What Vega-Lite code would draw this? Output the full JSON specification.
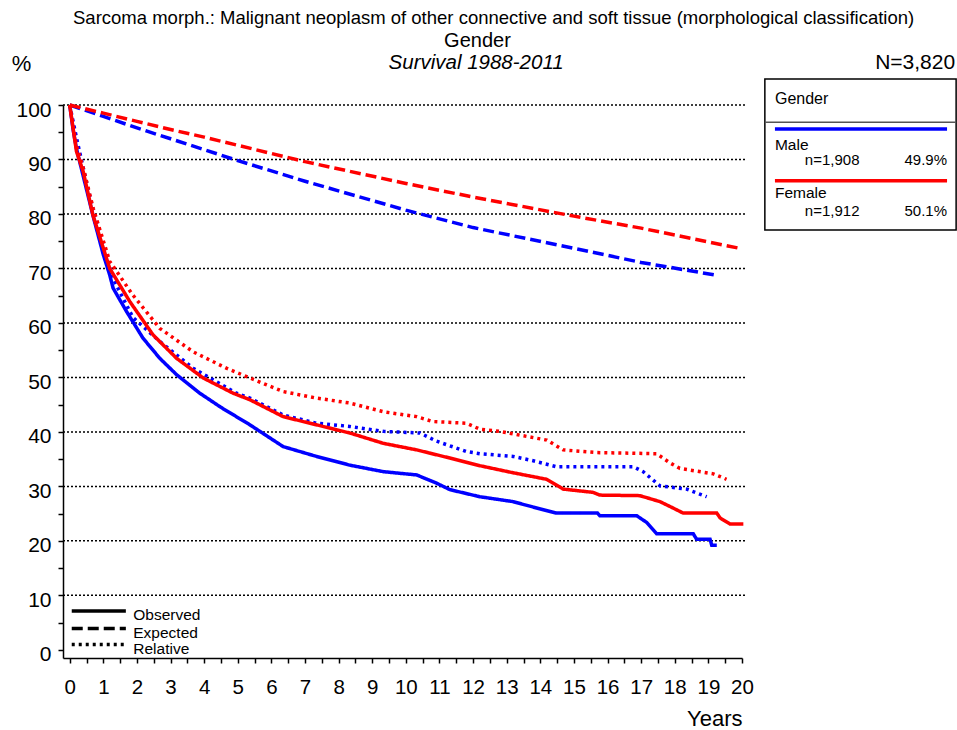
{
  "$schema": "https://vega.github.io/schema/vega-lite/v6.json",
  "width": 679,
  "height": 553,
  "autosize": "none",
  "padding": {"left": 63, "top": 105, "right": 215, "bottom": 72},
  "background": "white",
  "config": {
    "font": "Liberation Sans",
    "view": {"stroke": null},
    "text": {"font": "Liberation Sans", "color": "black"},
    "axis": {"labelOverlap": false, "labelFlush": false, "grid": false}
  },
  "datasets": {
    "curves": [
      {"g": "Male", "k": "Expected", "t": 0, "s": 100},
      {"g": "Male", "k": "Expected", "t": 1, "s": 97.9},
      {"g": "Male", "k": "Expected", "t": 2, "s": 95.8},
      {"g": "Male", "k": "Expected", "t": 3, "s": 93.8},
      {"g": "Male", "k": "Expected", "t": 5, "s": 89.8},
      {"g": "Male", "k": "Expected", "t": 7, "s": 86.0},
      {"g": "Male", "k": "Expected", "t": 10, "s": 80.7},
      {"g": "Male", "k": "Expected", "t": 12, "s": 77.5},
      {"g": "Male", "k": "Expected", "t": 15, "s": 73.7},
      {"g": "Male", "k": "Expected", "t": 17, "s": 71.1},
      {"g": "Male", "k": "Expected", "t": 19.2, "s": 68.8},
      {"g": "Male", "k": "Relative", "t": 0, "s": 100},
      {"g": "Male", "k": "Relative", "t": 0.2, "s": 94},
      {"g": "Male", "k": "Relative", "t": 0.4, "s": 88.5},
      {"g": "Male", "k": "Relative", "t": 0.7, "s": 80.5},
      {"g": "Male", "k": "Relative", "t": 1.0, "s": 74},
      {"g": "Male", "k": "Relative", "t": 1.3, "s": 68},
      {"g": "Male", "k": "Relative", "t": 1.88, "s": 61.0},
      {"g": "Male", "k": "Relative", "t": 2.68, "s": 56.6},
      {"g": "Male", "k": "Relative", "t": 3.67, "s": 51.7},
      {"g": "Male", "k": "Relative", "t": 4.96, "s": 47.1},
      {"g": "Male", "k": "Relative", "t": 5.36, "s": 46.2},
      {"g": "Male", "k": "Relative", "t": 6.35, "s": 43.1},
      {"g": "Male", "k": "Relative", "t": 7.34, "s": 41.6},
      {"g": "Male", "k": "Relative", "t": 8.33, "s": 41.0},
      {"g": "Male", "k": "Relative", "t": 9.33, "s": 40.1},
      {"g": "Male", "k": "Relative", "t": 10.42, "s": 39.8},
      {"g": "Male", "k": "Relative", "t": 10.91, "s": 38.3},
      {"g": "Male", "k": "Relative", "t": 11.8, "s": 36.4},
      {"g": "Male", "k": "Relative", "t": 12.2, "s": 36.0},
      {"g": "Male", "k": "Relative", "t": 13.19, "s": 35.5},
      {"g": "Male", "k": "Relative", "t": 13.79, "s": 34.7},
      {"g": "Male", "k": "Relative", "t": 14.48, "s": 33.6},
      {"g": "Male", "k": "Relative", "t": 16.77, "s": 33.6},
      {"g": "Male", "k": "Relative", "t": 17.06, "s": 32.7},
      {"g": "Male", "k": "Relative", "t": 17.56, "s": 30.1},
      {"g": "Male", "k": "Relative", "t": 18.35, "s": 29.5},
      {"g": "Male", "k": "Relative", "t": 18.95, "s": 28.1},
      {"g": "Male", "k": "Observed", "t": 0, "s": 100},
      {"g": "Male", "k": "Observed", "t": 0.1, "s": 95.5},
      {"g": "Male", "k": "Observed", "t": 0.2, "s": 92},
      {"g": "Male", "k": "Observed", "t": 0.4, "s": 87},
      {"g": "Male", "k": "Observed", "t": 0.7, "s": 79.5},
      {"g": "Male", "k": "Observed", "t": 1.0, "s": 72.5},
      {"g": "Male", "k": "Observed", "t": 1.19, "s": 68.8},
      {"g": "Male", "k": "Observed", "t": 1.29, "s": 66.4},
      {"g": "Male", "k": "Observed", "t": 1.69, "s": 62.1},
      {"g": "Male", "k": "Observed", "t": 2.18, "s": 57.2},
      {"g": "Male", "k": "Observed", "t": 2.68, "s": 53.5},
      {"g": "Male", "k": "Observed", "t": 3.18, "s": 50.5},
      {"g": "Male", "k": "Observed", "t": 3.87, "s": 47.1},
      {"g": "Male", "k": "Observed", "t": 4.5, "s": 44.5},
      {"g": "Male", "k": "Observed", "t": 5.36, "s": 41.3},
      {"g": "Male", "k": "Observed", "t": 6.35, "s": 37.3},
      {"g": "Male", "k": "Observed", "t": 7.34, "s": 35.5},
      {"g": "Male", "k": "Observed", "t": 8.33, "s": 33.9},
      {"g": "Male", "k": "Observed", "t": 9.33, "s": 32.7},
      {"g": "Male", "k": "Observed", "t": 10.32, "s": 32.1},
      {"g": "Male", "k": "Observed", "t": 10.91, "s": 30.6},
      {"g": "Male", "k": "Observed", "t": 11.31, "s": 29.4},
      {"g": "Male", "k": "Observed", "t": 12.2, "s": 28.1},
      {"g": "Male", "k": "Observed", "t": 13.19, "s": 27.2},
      {"g": "Male", "k": "Observed", "t": 13.79, "s": 26.2},
      {"g": "Male", "k": "Observed", "t": 14.48, "s": 25.1},
      {"g": "Male", "k": "Observed", "t": 15.7, "s": 25.1},
      {"g": "Male", "k": "Observed", "t": 15.77, "s": 24.6},
      {"g": "Male", "k": "Observed", "t": 16.87, "s": 24.6},
      {"g": "Male", "k": "Observed", "t": 17.16, "s": 23.4},
      {"g": "Male", "k": "Observed", "t": 17.46, "s": 21.3},
      {"g": "Male", "k": "Observed", "t": 18.55, "s": 21.3},
      {"g": "Male", "k": "Observed", "t": 18.65, "s": 20.3},
      {"g": "Male", "k": "Observed", "t": 19.05, "s": 20.3},
      {"g": "Male", "k": "Observed", "t": 19.1, "s": 19.2},
      {"g": "Male", "k": "Observed", "t": 19.25, "s": 19.2},
      {"g": "Female", "k": "Expected", "t": 0, "s": 100},
      {"g": "Female", "k": "Expected", "t": 1, "s": 98.5},
      {"g": "Female", "k": "Expected", "t": 2, "s": 97.0},
      {"g": "Female", "k": "Expected", "t": 3, "s": 95.5},
      {"g": "Female", "k": "Expected", "t": 4, "s": 94.1},
      {"g": "Female", "k": "Expected", "t": 5, "s": 92.6},
      {"g": "Female", "k": "Expected", "t": 7, "s": 89.6},
      {"g": "Female", "k": "Expected", "t": 10, "s": 85.6},
      {"g": "Female", "k": "Expected", "t": 12, "s": 83.1},
      {"g": "Female", "k": "Expected", "t": 15, "s": 79.6},
      {"g": "Female", "k": "Expected", "t": 17, "s": 77.4},
      {"g": "Female", "k": "Expected", "t": 20, "s": 73.6},
      {"g": "Female", "k": "Relative", "t": 0, "s": 100},
      {"g": "Female", "k": "Relative", "t": 0.2, "s": 92.5},
      {"g": "Female", "k": "Relative", "t": 0.4, "s": 88.5},
      {"g": "Female", "k": "Relative", "t": 0.7, "s": 81},
      {"g": "Female", "k": "Relative", "t": 1.19, "s": 71.3},
      {"g": "Female", "k": "Relative", "t": 1.88, "s": 65.1},
      {"g": "Female", "k": "Relative", "t": 2.68, "s": 59.0},
      {"g": "Female", "k": "Relative", "t": 3.67, "s": 54.7},
      {"g": "Female", "k": "Relative", "t": 4.66, "s": 51.7},
      {"g": "Female", "k": "Relative", "t": 5.36, "s": 49.9},
      {"g": "Female", "k": "Relative", "t": 6.35, "s": 47.4},
      {"g": "Female", "k": "Relative", "t": 7.34, "s": 46.2},
      {"g": "Female", "k": "Relative", "t": 8.33, "s": 45.3},
      {"g": "Female", "k": "Relative", "t": 9.33, "s": 43.7},
      {"g": "Female", "k": "Relative", "t": 10.32, "s": 42.8},
      {"g": "Female", "k": "Relative", "t": 10.8, "s": 41.9},
      {"g": "Female", "k": "Relative", "t": 11.8, "s": 41.6},
      {"g": "Female", "k": "Relative", "t": 12.2, "s": 40.5},
      {"g": "Female", "k": "Relative", "t": 12.8, "s": 40.1},
      {"g": "Female", "k": "Relative", "t": 13.39, "s": 39.4},
      {"g": "Female", "k": "Relative", "t": 14.19, "s": 38.5},
      {"g": "Female", "k": "Relative", "t": 14.68, "s": 36.7},
      {"g": "Female", "k": "Relative", "t": 15.68, "s": 36.2},
      {"g": "Female", "k": "Relative", "t": 17.46, "s": 36.0},
      {"g": "Female", "k": "Relative", "t": 17.86, "s": 34.3},
      {"g": "Female", "k": "Relative", "t": 18.15, "s": 33.3},
      {"g": "Female", "k": "Relative", "t": 19.15, "s": 32.3},
      {"g": "Female", "k": "Relative", "t": 19.54, "s": 31.3},
      {"g": "Female", "k": "Observed", "t": 0, "s": 100},
      {"g": "Female", "k": "Observed", "t": 0.1, "s": 95.7},
      {"g": "Female", "k": "Observed", "t": 0.2, "s": 91.5},
      {"g": "Female", "k": "Observed", "t": 0.4, "s": 87.8},
      {"g": "Female", "k": "Observed", "t": 0.69, "s": 79.8},
      {"g": "Female", "k": "Observed", "t": 1.19, "s": 70.0},
      {"g": "Female", "k": "Observed", "t": 1.79, "s": 63.9},
      {"g": "Female", "k": "Observed", "t": 2.48, "s": 57.8},
      {"g": "Female", "k": "Observed", "t": 3.18, "s": 53.5},
      {"g": "Female", "k": "Observed", "t": 3.97, "s": 49.9},
      {"g": "Female", "k": "Observed", "t": 4.86, "s": 47.1},
      {"g": "Female", "k": "Observed", "t": 5.36, "s": 45.9},
      {"g": "Female", "k": "Observed", "t": 6.35, "s": 42.8},
      {"g": "Female", "k": "Observed", "t": 7.34, "s": 41.3},
      {"g": "Female", "k": "Observed", "t": 8.33, "s": 39.8},
      {"g": "Female", "k": "Observed", "t": 9.33, "s": 37.9},
      {"g": "Female", "k": "Observed", "t": 10.32, "s": 36.7},
      {"g": "Female", "k": "Observed", "t": 11.31, "s": 35.2},
      {"g": "Female", "k": "Observed", "t": 12.2, "s": 33.8},
      {"g": "Female", "k": "Observed", "t": 13.19, "s": 32.5},
      {"g": "Female", "k": "Observed", "t": 14.19, "s": 31.3},
      {"g": "Female", "k": "Observed", "t": 14.68, "s": 29.5},
      {"g": "Female", "k": "Observed", "t": 15.57, "s": 28.9},
      {"g": "Female", "k": "Observed", "t": 15.77, "s": 28.4},
      {"g": "Female", "k": "Observed", "t": 16.96, "s": 28.3},
      {"g": "Female", "k": "Observed", "t": 17.56, "s": 27.2},
      {"g": "Female", "k": "Observed", "t": 17.86, "s": 26.3},
      {"g": "Female", "k": "Observed", "t": 18.25, "s": 25.1},
      {"g": "Female", "k": "Observed", "t": 19.25, "s": 25.1},
      {"g": "Female", "k": "Observed", "t": 19.35, "s": 24.2},
      {"g": "Female", "k": "Observed", "t": 19.64, "s": 23.1},
      {"g": "Female", "k": "Observed", "t": 20.04, "s": 23.1}
    ],
    "grid": [
      {"t": -0.2, "t2": 20.1, "s": 10}, {"t": -0.2, "t2": 20.1, "s": 20},
      {"t": -0.2, "t2": 20.1, "s": 30}, {"t": -0.2, "t2": 20.1, "s": 40},
      {"t": -0.2, "t2": 20.1, "s": 50}, {"t": -0.2, "t2": 20.1, "s": 60},
      {"t": -0.2, "t2": 20.1, "s": 70}, {"t": -0.2, "t2": 20.1, "s": 80},
      {"t": -0.2, "t2": 20.1, "s": 90}, {"t": -0.2, "t2": 20.1, "s": 100}
    ],
    "titleLine": [{"t": 12.61, "s": 115.97, "label": "Sarcoma morph.: Malignant neoplasm of other connective and soft tissue (morphological classification)"}],
    "groupLine": [{"t": 12.13, "s": 111.75, "label": "Gender"}],
    "subtitleLine": [{"t": 12.09, "s": 107.71, "label": "Survival 1988-2011"}],
    "countLabel": [{"t": 26.34, "s": 107.71, "label": "N=3,820"}],
    "box": [{"t": 20.68, "t2": 26.37, "s": 104.77, "s2": 77.06}],
    "boxSep": [{"t": 20.68, "t2": 26.37, "s": 96.82}],
    "boxHeader": [{"t": 20.98, "s": 101.1, "label": "Gender"}],
    "boxLines": [
      {"g": "Male", "t": 20.98, "t2": 26.1, "s": 95.59},
      {"g": "Female", "t": 20.98, "t2": 26.1, "s": 86.11}
    ],
    "boxNames": [
      {"t": 20.98, "s": 92.66, "label": "Male"},
      {"t": 20.98, "s": 83.79, "label": "Female"}
    ],
    "boxCounts": [
      {"t": 21.87, "s": 89.9, "label": "n=1,908"},
      {"t": 21.87, "s": 80.54, "label": "n=1,912"}
    ],
    "boxShares": [
      {"t": 26.1, "s": 89.9, "label": "49.9%"},
      {"t": 26.1, "s": 80.54, "label": "50.1%"}
    ],
    "keyLines": [
      {"k": "Observed", "t": 0.06, "t2": 1.67, "s": 7.14},
      {"k": "Expected", "t": 0.06, "t2": 1.67, "s": 3.91},
      {"k": "Relative", "t": 0.06, "t2": 1.67, "s": 0.97}
    ],
    "keyText": [
      {"t": 1.89, "s": 6.42, "label": "Observed"},
      {"t": 1.89, "s": 3.18, "label": "Expected"},
      {"t": 1.89, "s": 0.18, "label": "Relative"}
    ]
  },
  "encoding": {
    "x": {
      "field": "t", "type": "quantitative",
      "scale": {"domain": [-0.2, 20], "nice": false, "zero": false},
      "axis": {
        "values": [0, 0.5, 1, 1.5, 2, 2.5, 3, 3.5, 4, 4.5, 5, 5.5, 6, 6.5, 7, 7.5, 8, 8.5, 9, 9.5, 10, 10.5, 11, 11.5, 12, 12.5, 13, 13.5, 14, 14.5, 15, 15.5, 16, 16.5, 17, 17.5, 18, 18.5, 19, 19.5, 20],
        "labelExpr": "datum.value % 1 == 0 ? format(datum.value, 'd') : ''",
        "grid": false,
        "domainColor": "black", "domainWidth": 1.5,
        "tickColor": "black", "tickWidth": 1.5, "tickSize": 5,
        "labelFontSize": 20.5, "labelColor": "black", "labelPadding": 14,
        "labelFlush": false, "labelOverlap": false, "labelBound": false,
        "title": "Years", "titleAnchor": "end", "titleFontSize": 22,
        "titleFontWeight": "normal", "titleColor": "black",
        "titleY": 60, "titleBaseline": "middle"
      }
    },
    "y": {
      "field": "s", "type": "quantitative",
      "scale": {"domain": [-1.5, 100], "nice": false, "zero": false},
      "axis": {
        "values": [0, 5, 10, 15, 20, 25, 30, 35, 40, 45, 50, 55, 60, 65, 70, 75, 80, 85, 90, 95, 100],
        "labelExpr": "datum.value % 10 == 0 ? format(datum.value, 'd') : ''",
        "grid": false,
        "domainColor": "black", "domainWidth": 1.5,
        "tickColor": "black", "tickWidth": 1.5, "tickSize": 5,
        "labelFontSize": 21, "labelColor": "black", "labelPadding": 7,
        "labelBaseline": "middle", "labelOffset": 5, "labelOverlap": false,
        "title": "%", "titleAngle": 0, "titleX": -42, "titleY": -42,
        "titleAlign": "center", "titleBaseline": "middle",
        "titleFontSize": 22, "titleFontWeight": "normal", "titleColor": "black"
      }
    }
  },
  "layer": [
    {
      "data": {"name": "grid"},
      "mark": {"type": "rule", "color": "black", "strokeWidth": 1.5, "strokeDash": [2, 2]},
      "encoding": {"x2": {"field": "t2"}}
    },
    {
      "data": {"name": "curves"},
      "mark": {"type": "line", "strokeWidth": 3.5, "strokeCap": "butt"},
      "encoding": {
        "color": {
          "field": "g", "type": "nominal",
          "scale": {"domain": ["Male", "Female"], "range": ["#0000ff", "#ff0000"]},
          "legend": null
        },
        "strokeDash": {
          "field": "k", "type": "nominal",
          "scale": {"domain": ["Observed", "Expected", "Relative"], "range": [[1, 0], [11, 5], [3, 4]]},
          "legend": null
        },
        "detail": {"field": "k"}
      }
    },
    {
      "data": {"name": "keyLines"},
      "mark": {"type": "rule", "color": "black", "strokeWidth": 3.5},
      "encoding": {
        "x2": {"field": "t2"},
        "strokeDash": {"field": "k", "type": "nominal", "legend": null}
      }
    },
    {
      "data": {"name": "keyText"},
      "mark": {"type": "text", "align": "left", "baseline": "middle", "fontSize": 15.5},
      "encoding": {"text": {"field": "label"}}
    },
    {
      "data": {"name": "titleLine"},
      "mark": {"type": "text", "align": "center", "baseline": "middle", "fontSize": 18.5},
      "encoding": {"text": {"field": "label"}}
    },
    {
      "data": {"name": "groupLine"},
      "mark": {"type": "text", "align": "center", "baseline": "middle", "fontSize": 20},
      "encoding": {"text": {"field": "label"}}
    },
    {
      "data": {"name": "subtitleLine"},
      "mark": {"type": "text", "align": "center", "baseline": "middle", "fontSize": 20.5, "fontStyle": "italic"},
      "encoding": {"text": {"field": "label"}}
    },
    {
      "data": {"name": "countLabel"},
      "mark": {"type": "text", "align": "right", "baseline": "middle", "fontSize": 21},
      "encoding": {"text": {"field": "label"}}
    },
    {
      "data": {"name": "box"},
      "mark": {"type": "rect", "fill": "white", "stroke": "black", "strokeWidth": 1.5},
      "encoding": {"x2": {"field": "t2"}, "y2": {"field": "s2"}}
    },
    {
      "data": {"name": "boxSep"},
      "mark": {"type": "rule", "color": "#555555", "strokeWidth": 1.5},
      "encoding": {"x2": {"field": "t2"}}
    },
    {
      "data": {"name": "boxHeader"},
      "mark": {"type": "text", "align": "left", "baseline": "middle", "fontSize": 16},
      "encoding": {"text": {"field": "label"}}
    },
    {
      "data": {"name": "boxLines"},
      "mark": {"type": "rule", "strokeWidth": 3.5},
      "encoding": {
        "x2": {"field": "t2"},
        "color": {"field": "g", "type": "nominal", "legend": null}
      }
    },
    {
      "data": {"name": "boxNames"},
      "mark": {"type": "text", "align": "left", "baseline": "middle", "fontSize": 15.5},
      "encoding": {"text": {"field": "label"}}
    },
    {
      "data": {"name": "boxCounts"},
      "mark": {"type": "text", "align": "left", "baseline": "middle", "fontSize": 15},
      "encoding": {"text": {"field": "label"}}
    },
    {
      "data": {"name": "boxShares"},
      "mark": {"type": "text", "align": "right", "baseline": "middle", "fontSize": 15},
      "encoding": {"text": {"field": "label"}}
    }
  ]
}
